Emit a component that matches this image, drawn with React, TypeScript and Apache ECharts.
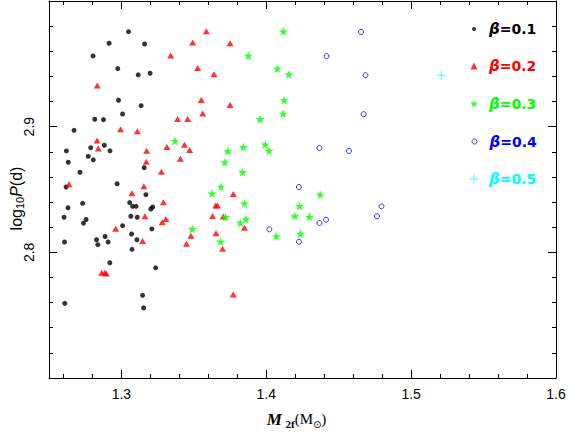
import React, { useEffect, useRef } from 'react';
import * as echarts from 'echarts';

// ---- data (M2f, log10 P) ----
const beta01: [number, number][] = [
  [1.3049, 2.9756], [1.2915, 2.9664], [1.316, 2.9658], [1.2804, 2.9563], [1.2975, 2.9462],
  [1.3116, 2.9412], [1.3198, 2.9425], [1.298, 2.921], [1.3136, 2.9167], [1.3008, 2.9101],
  [1.2816, 2.9059], [1.2876, 2.9056], [1.2673, 2.8971], [1.262, 2.8807], [1.2788, 2.8833],
  [1.2882, 2.8852], [1.2921, 2.8808], [1.2633, 2.8717], [1.2771, 2.8764], [1.2806, 2.8736],
  [1.2714, 2.8637], [1.3157, 2.8674], [1.297, 2.8546], [1.2618, 2.852], [1.3169, 2.8459],
  [1.2732, 2.839], [1.2631, 2.8355], [1.3057, 2.8396], [1.3077, 2.8366], [1.3101, 2.8366],
  [1.3203, 2.8345], [1.3216, 2.8361], [1.2604, 2.8279], [1.2756, 2.8261], [1.2738, 2.8232],
  [1.3065, 2.8287], [1.3109, 2.8279], [1.3008, 2.8212], [1.321, 2.8186], [1.2607, 2.8082],
  [1.2828, 2.81], [1.2887, 2.8126], [1.2837, 2.8061], [1.2908, 2.8082], [1.307, 2.8146],
  [1.3107, 2.81], [1.3073, 2.8024], [1.292, 2.7917], [1.3236, 2.7877], [1.2609, 2.7594],
  [1.3146, 2.7658], [1.3153, 2.7558],
];
const beta02: [number, number][] = [
  [1.3586, 2.976], [1.3492, 2.9669], [1.375, 2.9664], [1.334, 2.9566], [1.3526, 2.9466],
  [1.3639, 2.9417], [1.2833, 2.9328], [1.3551, 2.9213], [1.375, 2.9173], [1.3561, 2.9105],
  [1.3387, 2.9061], [1.3457, 2.9061], [1.2994, 2.898], [1.311, 2.8963], [1.2832, 2.889],
  [1.284, 2.8826], [1.3174, 2.8808], [1.3172, 2.8721], [1.3314, 2.8838], [1.3435, 2.8856],
  [1.3471, 2.8814], [1.3407, 2.8744], [1.3276, 2.8642], [1.2638, 2.8542], [1.3155, 2.8526],
  [1.3072, 2.8471], [1.329, 2.8398], [1.3162, 2.8287], [1.3307, 2.8265], [1.3281, 2.8239],
  [1.296, 2.8188], [1.3146, 2.809], [1.2864, 2.7837], [1.2885, 2.7838], [1.2896, 2.7831],
  [1.3772, 2.8464], [1.3651, 2.8373], [1.3663, 2.8373], [1.3629, 2.8289], [1.3703, 2.8285],
  [1.3849, 2.8195], [1.348, 2.8132], [1.3449, 2.8068], [1.3653, 2.8151], [1.3698, 2.8028],
  [1.3772, 2.7664],
];
const beta03: [number, number][] = [
  [1.4118, 2.9758], [1.3876, 2.9565], [1.4076, 2.9463], [1.4156, 2.9416], [1.4124, 2.9211],
  [1.4116, 2.9103], [1.3957, 2.906], [1.3369, 2.8886], [1.3734, 2.8807], [1.3842, 2.8838],
  [1.3993, 2.8857], [1.4019, 2.8808], [1.3714, 2.8717], [1.3836, 2.8639], [1.3687, 2.8522],
  [1.3624, 2.8468], [1.3849, 2.8391], [1.3719, 2.8281], [1.386, 2.8265], [1.382, 2.8236],
  [1.3489, 2.8186], [1.4069, 2.8128], [1.3684, 2.8086], [1.4372, 2.8459], [1.4229, 2.8369],
  [1.4197, 2.8289], [1.4298, 2.8283], [1.4236, 2.8148],
];
const beta04: [number, number][] = [
  [1.4654, 2.9754], [1.4416, 2.9561], [1.4685, 2.9409], [1.4672, 2.9099], [1.4367, 2.883],
  [1.4571, 2.8807], [1.4225, 2.852], [1.4795, 2.8366], [1.4764, 2.8287], [1.4367, 2.8233],
  [1.4412, 2.826], [1.4225, 2.8084], [1.4021, 2.8183],
];
const beta05: [number, number][] = [[1.5207, 2.9409]];

const seriesNames = ['β=0.1', 'β=0.2', 'β=0.3', 'β=0.4', 'β=0.5'];
const seriesColors = ['#000000', '#ff0000', '#00ff00', '#0000ff', '#00ffff'];

const xMajorTicks = [1.3, 1.4, 1.5, 1.6];
const xMinorTicks = [1.26, 1.28, 1.32, 1.34, 1.36, 1.38, 1.42, 1.44, 1.46, 1.48, 1.52, 1.54, 1.56, 1.58];
const yMajorTicks = [2.8, 2.9];
const yMinorTicks = [2.72, 2.74, 2.76, 2.78, 2.82, 2.84, 2.86, 2.88, 2.92, 2.94, 2.96, 2.98];

// ---- symbols ----
const STAR = 'path://M50,0 L62,35 L97.6,34.5 L69,56.5 L79.4,90.5 L50,70 L20.6,90.5 L31,56.5 L2.4,34.5 L38,35 Z';
const PLUS = 'path://M4.5,0 H5.5 V4.5 H10 V5.5 H5.5 V10 H4.5 V5.5 H0 V4.5 H4.5 Z';

export default function App() {
  const ref = useRef<HTMLDivElement>(null);
  useEffect(() => {
    if (!ref.current) return;
    const chart = echarts.init(ref.current, undefined, { renderer: 'svg' });

    const tickStyle = { color: '#000', width: 1 };
    const xBase = { type: 'value', min: 1.25, max: 1.6, splitLine: { show: false } };
    const yBase = { type: 'value', min: 2.7, max: 3.0, splitLine: { show: false } };
    const lineOn = { show: true, onZero: false, lineStyle: { color: '#000', width: 1 } };
    const lineOff = { show: false, onZero: false };

    const icons = ['circle', 'triangle', STAR, 'circle', PLUS];
    const iconSizes = [4, 7, 8, 5, 9];
    const legendTops = [16.5, 53.5, 91, 129, 166.5];
    const iconCenterX = 469;
    const textStartX = 484;

    const legends = seriesNames.map((name, i) => {
      const s = iconSizes[i];
      const pad = textStartX - (iconCenterX + s / 2 + 5);
      return {
        show: true,
        left: iconCenterX - s / 2,
        top: legendTops[i],
        itemWidth: s,
        itemHeight: s,
        selectedMode: false,
        data: [
          i === 3
            ? { name, icon: icons[i], itemStyle: { color: 'rgba(0,0,0,0)', borderColor: '#0000ff', borderWidth: 1 } }
            : { name, icon: icons[i], itemStyle: { color: seriesColors[i], borderWidth: 0 } },
        ],
        formatter: (n: string) => `{b|β}{t|${n.slice(1)}}`,
        textStyle: {
          color: seriesColors[i],
          rich: {
            b: { fontFamily: 'DejaVu Sans', fontStyle: 'italic', fontWeight: 'bold', fontSize: 15, color: seriesColors[i], lineHeight: 16, padding: [0, 0, 0, pad] },
            t: { fontFamily: 'DejaVu Sans', fontWeight: 'bold', fontSize: 14, color: seriesColors[i], lineHeight: 16 },
          },
        },
      };
    });

    chart.setOption({
      animation: false,
      backgroundColor: '#ffffff',
      grid: { left: 49, top: 1, width: 507, height: 377, containLabel: false, outerBoundsMode: 'none' },
      legend: legends,
      xAxis: [
        {
          ...xBase,
          position: 'bottom',
          axisLine: lineOn,
          axisTick: { show: true, inside: true, length: 8, customValues: xMajorTicks, lineStyle: tickStyle },
          axisLabel: {
            show: true,
            customValues: xMajorTicks,
            formatter: (v: number) => v.toFixed(1),
            margin: 9,
            color: '#000',
            fontFamily: 'Liberation Sans',
            fontSize: 14,
          },
          name: '{i|M}{n| }{s|2f}{n|(M}{s2|⊙}{n|)}',
          nameLocation: 'middle',
          nameGap: 31,
          nameMoveOverlap: false,
          nameTextStyle: {
            padding: [0, 12, 0, 0],
            rich: {
              i: { fontFamily: 'Liberation Serif', fontStyle: 'italic', fontWeight: 'bold', fontSize: 17, color: '#000', lineHeight: 20 },
              n: { fontFamily: 'Liberation Serif', fontSize: 15, color: '#000', lineHeight: 20 },
              s: { fontFamily: 'Liberation Serif', fontWeight: 'bold', fontSize: 11, color: '#000', lineHeight: 11, verticalAlign: 'bottom' },
              s2: { fontFamily: 'DejaVu Sans', fontSize: 10, color: '#000', lineHeight: 11, verticalAlign: 'bottom' },
            },
          },
        },
        {
          ...xBase,
          position: 'bottom',
          axisLine: lineOff,
          axisTick: { show: true, inside: true, length: 4, customValues: xMinorTicks, lineStyle: tickStyle },
          axisLabel: { show: false },
        },
        {
          ...xBase,
          position: 'top',
          axisLine: lineOn,
          axisTick: { show: true, inside: true, length: 8, customValues: xMajorTicks, lineStyle: tickStyle },
          axisLabel: { show: false },
        },
        {
          ...xBase,
          position: 'top',
          axisLine: lineOff,
          axisTick: { show: true, inside: true, length: 4, customValues: xMinorTicks, lineStyle: tickStyle },
          axisLabel: { show: false },
        },
      ],
      yAxis: [
        {
          ...yBase,
          position: 'left',
          axisLine: lineOn,
          axisTick: { show: true, inside: true, length: 8, customValues: yMajorTicks, lineStyle: tickStyle },
          axisLabel: {
            show: true,
            customValues: yMajorTicks,
            formatter: (v: number) => v.toFixed(1),
            rotate: 90,
            margin: 13,
            color: '#000',
            fontFamily: 'Liberation Sans',
            fontSize: 14,
          },
          name: '{n|log}{s|10}{i|P}{n|(d)}',
          nameLocation: 'middle',
          nameGap: 24,
          nameMoveOverlap: false,
          nameTextStyle: {
            padding: [0, 18, 0, 0],
            rich: {
              n: { fontFamily: 'Liberation Sans', fontSize: 16, color: '#000', lineHeight: 18 },
              i: { fontFamily: 'Liberation Sans', fontStyle: 'italic', fontSize: 16, color: '#000', lineHeight: 18 },
              s: { fontFamily: 'Liberation Sans', fontSize: 11, color: '#000', lineHeight: 11, verticalAlign: 'bottom' },
            },
          },
        },
        {
          ...yBase,
          position: 'left',
          axisLine: lineOff,
          axisTick: { show: true, inside: true, length: 4, customValues: yMinorTicks, lineStyle: tickStyle },
          axisLabel: { show: false },
        },
        {
          ...yBase,
          position: 'right',
          axisLine: lineOn,
          axisTick: { show: true, inside: true, length: 8, customValues: yMajorTicks, lineStyle: tickStyle },
          axisLabel: { show: false },
        },
        {
          ...yBase,
          position: 'right',
          axisLine: lineOff,
          axisTick: { show: true, inside: true, length: 4, customValues: yMinorTicks, lineStyle: tickStyle },
          axisLabel: { show: false },
        },
      ],
      series: [
        { name: seriesNames[0], type: 'scatter', xAxisIndex: 0, yAxisIndex: 0, data: beta01, symbol: 'circle', symbolSize: 5, itemStyle: { color: seriesColors[0] } },
        { name: seriesNames[1], type: 'scatter', xAxisIndex: 0, yAxisIndex: 0, data: beta02, symbol: 'triangle', symbolSize: [7, 6], itemStyle: { color: seriesColors[1] } },
        { name: seriesNames[2], type: 'scatter', xAxisIndex: 0, yAxisIndex: 0, data: beta03, symbol: STAR, symbolSize: 9, itemStyle: { color: seriesColors[2] } },
        { name: seriesNames[3], type: 'scatter', xAxisIndex: 0, yAxisIndex: 0, data: beta04, symbol: 'circle', symbolSize: 5, itemStyle: { color: 'rgba(0,0,0,0)', borderColor: seriesColors[3], borderWidth: 1 } },
        { name: seriesNames[4], type: 'scatter', xAxisIndex: 0, yAxisIndex: 0, data: beta05, symbol: PLUS, symbolSize: 9, itemStyle: { color: seriesColors[4] } },
      ],
    });
    return () => chart.dispose();
  }, []);
  return (
    <div
      ref={ref}
      style={{ position: 'fixed', left: 0, top: 0, width: 569, height: 436, background: '#fff' }}
    />
  );
}
